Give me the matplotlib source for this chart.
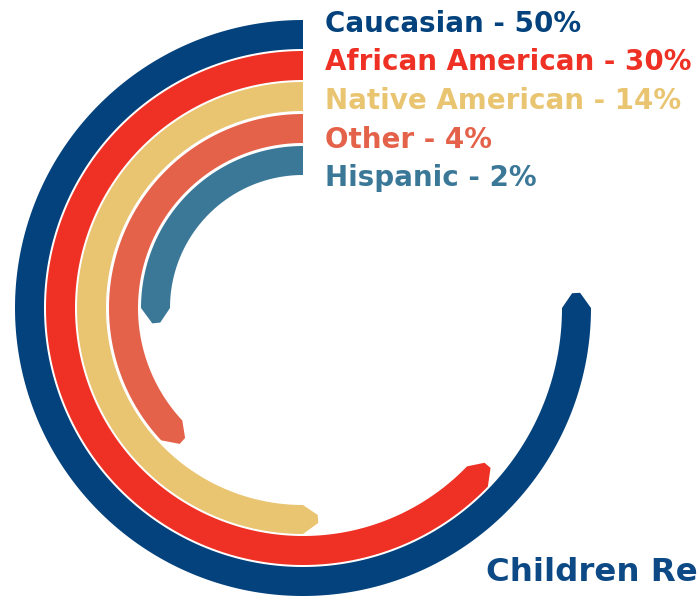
import numpy as np
import matplotlib
matplotlib.use("Agg")
import matplotlib.pyplot as plt

# ---- data ----
categories = ["Caucasian", "African American", "Native American", "Other", "Hispanic"]
percents = [50, 30, 14, 4, 2]
arc_sweep_deg = [270, 226, 180, 133, 90]   # angular length of each arc as drawn
colors = ["#03427c", "#ee3124", "#e9c471", "#e4614a", "#3b7898"]
footer_text = "Children Re"

# ---- layout ----
W, H = 697, 597
cx, cy = 303, 308          # centre of the rings (pixels from top-left)
R_AX = 292                 # radius of polar axes in pixels (r data == pixels)
outer_r = [288, 257, 226, 194, 162]
band_w = 29
tip_px = 15
tip_half = 4

fig = plt.figure(figsize=(W / 100, H / 100), dpi=100)
fig.patch.set_facecolor("white")
ax = fig.add_axes([(cx - R_AX) / W, (H - cy - R_AX) / H, 2 * R_AX / W, 2 * R_AX / H],
                  projection="polar")
ax.set_theta_zero_location("N")
ax.set_theta_direction(1)
ax.set_ylim(0, R_AX)
ax.axis("off")

for cat, sweep, col, ro in zip(categories, arc_sweep_deg, colors, outer_r):
    ri = ro - band_w
    rm = (ro + ri) / 2
    te = np.deg2rad(sweep)
    dt = tip_px / rm
    th = np.linspace(0, te, 400)
    theta = np.concatenate([th, [te + dt, te + dt], th[::-1]])
    r = np.concatenate([np.full_like(th, ro), [rm + tip_half, rm - tip_half], np.full_like(th, ri)])
    ax.fill(theta, r, color=col, lw=0, clip_on=False)

# ---- labels ----
label_x = 325
baselines = [32, 70.5, 109, 147.5, 186]
for cat, p, col, yb in zip(categories, percents, colors, baselines):
    fig.text(label_x / W, 1 - yb / H, f"{cat} - {p}%", color=col, fontsize=20,
             fontweight="bold", family="DejaVu Sans", ha="left", va="baseline")

fig.text(486 / W, 1 - 581 / H, footer_text, color="#0d4a85", fontsize=23.3,
         fontweight="bold", family="DejaVu Sans", ha="left", va="baseline")

fig.savefig("out.png", dpi=100, facecolor="white")
